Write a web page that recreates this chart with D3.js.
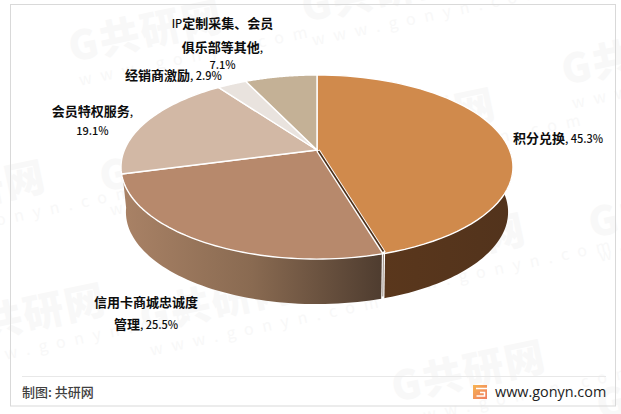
<!DOCTYPE html>
<html><head><meta charset="utf-8">
<script src="https://cdn.jsdelivr.net/npm/d3@7"></script>
<style>html,body{margin:0;background:#fff}svg{display:block}text{font-family:"Noto Sans CJK SC","Noto Sans",sans-serif}</style>
</head><body><svg id="c" width="621" height="414"></svg>
<script>
const categories=["积分兑换","信用卡商城忠诚度管理","会员特权服务","经销商激励","IP定制采集、会员俱乐部等其他"];
const shares=[45.3,25.5,19.1,2.9,7.1];
const topColors=["#D08A4C","#B7896C","#D2B8A5","#E9E3DE","#C4B196"];
const svg=d3.select("#c");
const defs=svg.append("defs");
// watermarks
const wmSpots=[[72,62],[305,22],[565,85],[103,192],[-105,222],[-45,345],[143,332],[345,150],[375,275],[395,402],[592,238],[600,420]];
const wm=svg.append("g").attr("fill","#f8f8f8");
wmSpots.forEach(s=>{
  const g=wm.append("g").attr("transform",`translate(${s[0]},${s[1]}) rotate(-12)`);
  g.append("text").attr("x",0).attr("y",0).attr("font-size",40).attr("font-weight",900).attr("letter-spacing",2).text("G共研网");
  g.append("text").attr("x",3).attr("y",25).attr("font-size",16).attr("letter-spacing",9).text("www.gonyn.com");
});
// frame
svg.append("rect").attr("x",10.5).attr("y",4.5).attr("width",605).attr("height",401.5).attr("fill","none").attr("stroke","#d9d9d9");
svg.append("line").attr("x1",22).attr("x2",606).attr("y1",376.5).attr("y2",376.5).attr("stroke","#e8e8e8");
// pie geometry
const pie=d3.pie().sort(null).value(d=>d);
const arcs=pie(shares);
const cx=317,cy=150,A=192.6,B=88.9,k=0.185,depth=45,shrink=0.975;
const sx=d3.scaleLinear().domain([-1,1]).range([cx-A,cx+A]);
const sy=d3.scaleLinear().domain([-1,1]).range([cy+B,cy-B]);
function rim(t){const u=Math.sin(t),v=Math.cos(t),w=1+k*v;return [sx(u/w),sy(v/w)];}
function low(t){const p=rim(t);return [cx+(p[0]-cx)*shrink,p[1]+depth];}
function samples(a,b){return d3.range(0,61).map(i=>a+(b-a)*i/60);}
const line=d3.line();
const g1=defs.append("linearGradient").attr("id","w1").attr("gradientUnits","userSpaceOnUse").attr("x1",122).attr("x2",383).attr("y1",0).attr("y2",0);
[[0,"#A98266"],[0.5,"#896A51"],[1,"#4E3C2F"]].forEach(s=>g1.append("stop").attr("offset",s[0]).attr("stop-color",s[1]));
const g0=defs.append("linearGradient").attr("id","w0").attr("gradientUnits","userSpaceOnUse").attr("x1",385).attr("x2",510).attr("y1",0).attr("y2",0);
[[0,"#5A371C"],[1,"#52331C"]].forEach(s=>g0.append("stop").attr("offset",s[0]).attr("stop-color",s[1]));
const rad=Math.PI/180;
const walls=svg.append("g");
[["url(#w0)",90*rad,arcs[0].endAngle],["url(#w1)",arcs[1].startAngle,262*rad]].forEach(([fill,a,b])=>{
  const ts=samples(a,b);
  const pts=ts.map(t=>rim(t)).concat(ts.slice().reverse().map(t=>low(t)));
  walls.append("path").attr("d",line(pts)+"Z").attr("fill",fill);
});
// seam between the two front walls
const seam=arcs[0].endAngle;
const st=rim(seam),sb=low(seam);
const seamG=svg.append("g");
seamG.append("line").attr("x1",st[0]-1).attr("y1",st[1]).attr("x2",sb[0]).attr("y2",sb[1]+0.5).attr("stroke","#fff").attr("stroke-width",3.2);
seamG.append("line").attr("x1",st[0]-1).attr("y1",st[1]).attr("x2",sb[0]).attr("y2",sb[1]-2).attr("stroke","#9A8C82").attr("stroke-width",1);
// top faces
const tops=svg.append("g");
arcs.forEach((d,i)=>{
  const pts=[[cx,cy]].concat(samples(d.startAngle,d.endAngle).map(t=>rim(t)));
  tops.append("path").attr("d",line(pts)+"Z").attr("fill",topColors[i]).attr("stroke","#fff").attr("stroke-width",1.4).attr("stroke-linejoin","round");
});
// dark inner cut of the pulled-out slice
svg.append("line").attr("x1",cx+1).attr("y1",cy+0.5).attr("x2",st[0]-0.5).attr("y2",st[1]-0.5).attr("stroke","#fff").attr("stroke-width",4);
svg.append("line").attr("x1",cx+1.5).attr("y1",cy+1).attr("x2",st[0]-1).attr("y2",st[1]-2).attr("stroke","#4A2E18").attr("stroke-width",1.6);
// labels
const labelLines=[
 ["积分兑换, 45.3%",513,143,"start"],
 ["信用卡商城忠诚度",146,307,"middle"],["管理, 25.5%",146,329,"middle"],
 ["会员特权服务,",92.5,116,"middle"],["19.1%",92.5,135,"middle"],
 ["经销商激励, 2.9%",173.5,79.5,"middle"],
 ["IP定制采集、会员",222.5,28,"middle"],["俱乐部等其他,",222.5,51.5,"middle"],["7.1%",222.5,69,"middle"]];
function rich(sel,s,cjk,lat,wc){
  s.match(/[\u3000-\u9fff]+|[^\u3000-\u9fff]+/g).forEach(p=>{
    const isC=/[\u3000-\u9fff]/.test(p);
    sel.append("tspan").attr("font-size",isC?cjk:lat).attr("font-weight",isC?wc:500).text(p);
  });
}
labelLines.forEach(l=>{
  const t=svg.append("text").attr("x",l[1]).attr("y",l[2]).attr("text-anchor",l[3]).attr("fill","#0d0d0d").style("white-space","pre");
  rich(t,l[0],13,11,700);
});
// footer
const ft=svg.append("text").attr("x",22).attr("y",397).attr("fill","#404040").style("white-space","pre");
rich(ft,"制图: 共研网",13,13,500);
const lg=defs.append("linearGradient").attr("id","lg").attr("x1",0).attr("x2",1).attr("y1",0).attr("y2",1);
lg.append("stop").attr("offset",0).attr("stop-color","#F7B451");lg.append("stop").attr("offset",1).attr("stop-color","#EF7D62");
svg.append("path").attr("d","M473 385H487V399H473Z").attr("fill","url(#lg)");
svg.append("path").attr("d","M476 388.5H487M480 392.5H484.5V396H476.5").attr("fill","none").attr("stroke","#fff").attr("stroke-width",1.5);
svg.append("text").attr("x",495).attr("y",396.5).attr("font-size",14.4).style("font-family","'Open Sans'").attr("fill","#222").text("www.gonyn.com");
</script></body></html>
